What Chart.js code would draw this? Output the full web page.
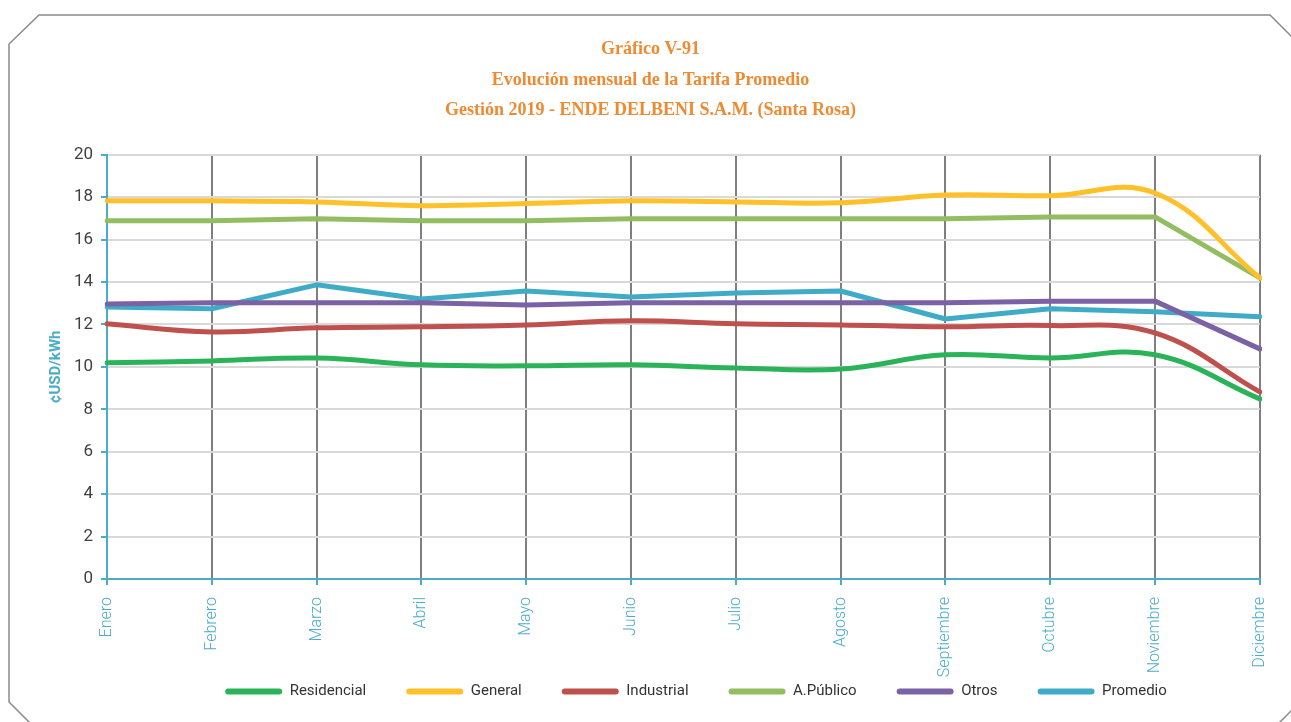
<!DOCTYPE html>
<html>
<head>
<meta charset="utf-8">
<script src="https://cdn.jsdelivr.net/npm/chart.js@4.4.1/dist/chart.umd.min.js"></script>
<style>
  html, body { margin: 0; padding: 0; background: #ffffff; }
  canvas { display: block; }
</style>
</head>
<body>
<canvas id="c" width="1291" height="722"></canvas>
<script>
const months = ["Enero","Febrero","Marzo","Abril","Mayo","Junio","Julio","Agosto","Septiembre","Octubre","Noviembre","Diciembre"];
const residencial = [10.19, 10.28, 10.42, 10.10, 10.05, 10.10, 9.95, 9.90, 10.57, 10.42, 10.57, 8.49];
const general     = [17.83, 17.83, 17.78, 17.60, 17.70, 17.83, 17.78, 17.74, 18.10, 18.07, 18.20, 14.20];
const industrial  = [12.03, 11.65, 11.84, 11.89, 11.98, 12.17, 12.03, 11.98, 11.89, 11.95, 11.60, 8.82];
const aPublico    = [16.89, 16.89, 16.98, 16.89, 16.89, 16.98, 16.98, 16.98, 16.98, 17.07, 17.07, 14.20];
const otros       = [12.97, 13.02, 13.02, 13.02, 12.92, 13.02, 13.02, 13.02, 13.02, 13.10, 13.10, 10.85];
const promedio    = [12.83, 12.74, 13.87, 13.20, 13.58, 13.30, 13.49, 13.58, 12.26, 12.74, 12.60, 12.37];
const yTicks = [0, 2, 4, 6, 8, 10, 12, 14, 16, 18, 20];

const titleLines = ["Gráfico V-91", "Evolución mensual de la Tarifa Promedio", "Gestión 2019 - ENDE DELBENI S.A.M. (Santa Rosa)"];
const yTitle = "¢USD/kWh";

const TEAL = "#4BACC6";
const FONT = '"Roboto", "Liberation Sans", sans-serif';
const PAD_L = 40, PAD_R = 30, PAD_B = -40;
const AXIS_Y = 579, LEGEND_Y = 690, LEGEND_X = 696, LEG_PAD = 40;

function ds(label, data, color, tension) {
  return { label, data, borderColor: color, backgroundColor: color, borderWidth: 5,
           pointRadius: 0, pointHoverRadius: 0, tension: tension, fill: false,
           borderCapStyle: 'round', borderJoinStyle: 'round' };
}

const framePlugin = {
  id: 'frame',
  beforeDraw(chart) {
    const ctx = chart.ctx;
    ctx.save();
    ctx.fillStyle = '#ffffff';
    ctx.fillRect(0, 0, chart.width, chart.height);
    ctx.strokeStyle = '#8a8a8a';
    ctx.lineWidth = 1.5;
    ctx.beginPath();
    ctx.moveTo(30, 723);
    ctx.lineTo(9, 702);
    ctx.lineTo(9, 44);
    ctx.lineTo(39, 15);
    ctx.lineTo(1270, 15);
    ctx.lineTo(1300, 45);
    ctx.stroke();
    ctx.beginPath();
    ctx.moveTo(1279, 723);
    ctx.lineTo(1300, 702);
    ctx.stroke();
    ctx.restore();
  }
};

const legendShift = {
  id: 'legendShift',
  afterLayout(chart) {
    const L = chart.legend;
    if (!L) return;
    const dx = LEGEND_X - (L.left + L.right) / 2;
    L.left += dx; L.right += dx;
    const dy = LEGEND_Y - (L.top + LEG_PAD + 6);
    L.top += dy; L.bottom += dy;
  }
};

new Chart(document.getElementById('c'), {
  type: 'line',
  data: {
    labels: months,
    datasets: [
      ds("Residencial", residencial, "#2BB35A", 0.4),
      ds("General", general, "#FFC02A", 0.4),
      ds("Industrial", industrial, "#BE504D", 0.4),
      ds("A.Público", aPublico, "#93BD61", 0),
      ds("Otros", otros, "#7A62A5", 0),
      ds("Promedio", promedio, "#3FABC6", 0)
    ]
  },
  options: {
    responsive: false,
    animation: false,
    layout: { padding: { left: PAD_L, right: PAD_R, top: 22, bottom: PAD_B } },
    plugins: {
      title: {
        display: true,
        text: titleLines,
        color: '#ED8A32',
        font: { family: '"Liberation Serif", serif', size: 18, weight: 'bold', lineHeight: 1.7 },
        padding: { top: 12, bottom: 29 }
      },
      legend: {
        position: 'bottom',
        labels: {
          boxWidth: 57,
          boxHeight: 6,
          useBorderRadius: true,
          borderRadius: 3,
          padding: LEG_PAD,
          color: '#333333',
          font: { family: FONT, size: 15 },
          generateLabels(chart) {
            const items = Chart.defaults.plugins.legend.labels.generateLabels(chart);
            items.forEach(i => { i.lineWidth = 0; i.fillStyle = i.strokeStyle; i.borderRadius = 3; });
            return items;
          }
        }
      },
      tooltip: { enabled: false }
    },
    scales: {
      x: {
        offset: false,
        afterFit(scale) {
          const lh = scale.chart.legend ? scale.chart.legend.height : 0;
          scale.height = Math.max(10, scale.chart.height - PAD_B - lh - AXIS_Y);
        },
        grid: {
          color: (c) => c.index === 0 ? 'rgba(0,0,0,0)' : '#7F7F7F',
          lineWidth: 2,
          tickColor: TEAL,
          tickLength: 6
        },
        border: { color: TEAL, width: 2 },
        ticks: {
          color: TEAL,
          minRotation: 90,
          maxRotation: 90,
          autoSkip: false,
          padding: 12,
          font: { family: FONT, size: 16, weight: 300 }
        }
      },
      y: {
        min: 0,
        max: 20,
        afterFit(scale) { scale.width = 107 - PAD_L; },
        afterBuildTicks(scale) { scale.ticks = yTicks.map(v => ({ value: v })); },
        grid: {
          color: (c) => c.tick && c.tick.value === 0 ? 'rgba(0,0,0,0)' : '#D9D9D9',
          lineWidth: 2,
          tickColor: TEAL,
          tickLength: 6
        },
        border: { color: TEAL, width: 2 },
        ticks: {
          color: '#404040',
          padding: 8,
          font: { family: FONT, size: 17 }
        },
        title: {
          display: true,
          text: yTitle,
          color: TEAL,
          font: { family: FONT, size: 15, weight: 'bold' },
          padding: { top: 7, bottom: 0 }
        }
      }
    }
  },
  plugins: [framePlugin, legendShift]
});
</script>
</body>
</html>
